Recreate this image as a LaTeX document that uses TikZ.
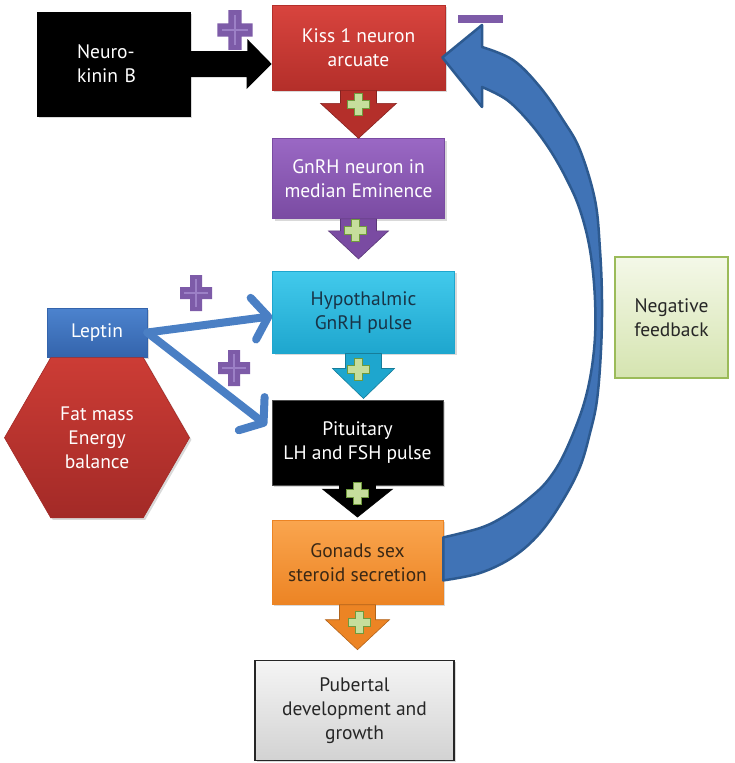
\documentclass[tikz,border=0pt]{standalone}
\usepackage{fontspec}
\setmainfont{PT Sans}
\usepackage{xcolor}
\definecolor{KissRed}{HTML}{D8443E}
\definecolor{KissRedDark}{HTML}{B42F2A}
\definecolor{GnrhPurple}{HTML}{9A68C4}
\definecolor{GnrhPurpleDark}{HTML}{7A4BA2}
\definecolor{HypoCyan}{HTML}{42CAEC}
\definecolor{HypoCyanDark}{HTML}{1EA6CE}
\definecolor{GonadOrange}{HTML}{FAA54E}
\definecolor{GonadOrangeDark}{HTML}{EC8424}
\definecolor{LeptinBlue}{HTML}{4C83CE}
\definecolor{LeptinBlueDark}{HTML}{3464AC}
\definecolor{FatRed}{HTML}{CC3C35}
\definecolor{FatRedDark}{HTML}{A32A27}
\definecolor{NegGreen}{HTML}{F4F8E8}
\definecolor{NegGreenDark}{HTML}{D5E4B0}
\definecolor{NegEdge}{HTML}{9BBB59}
\definecolor{ArrowBlue}{HTML}{4A7FC4}
\definecolor{LoopBlue}{HTML}{4073B6}
\definecolor{LoopEdge}{HTML}{2D5A90}
\definecolor{CrossPurple}{HTML}{7D5BA8}
\definecolor{CrossLight}{HTML}{9C80C6}
\definecolor{PlusGreen}{HTML}{C6DE9C}
\definecolor{PlusEdge}{HTML}{6F9A3C}
\definecolor{HypoText}{HTML}{183447}
\definecolor{GonadText}{HTML}{3A2815}
\usetikzlibrary{arrows.meta,positioning,shapes.geometric,calc,shadows}

\tikzset{
  pics/pcross/.style={code={
    \fill[CrossPurple] (-16,-6) rectangle (16,6) (-6,-18) rectangle (6,18);
    \draw[CrossLight, line width=1.5pt] (-12,0) -- (12,0) (0,-14) -- (0,14);}},
  pics/gplus/.style={code={
    \filldraw[fill=PlusGreen, draw=PlusEdge, line width=1pt]
      (-4,-11) -- (4,-11) -- (4,-4) -- (11,-4) -- (11,4) -- (4,4) -- (4,11)
      -- (-4,11) -- (-4,4) -- (-11,4) -- (-11,-4) -- (-4,-4) -- cycle;}},
  pics/downblock/.style n args={4}{code={
    \filldraw[fill=#1, draw=#1!75!black, line width=0.6pt]
      (-18,0) -- (-18,#2) -- (-#4,#2) -- (0,{#2+#3}) -- (#4,#2) -- (18,#2) -- (18,0) -- cycle;}}
}

\begin{document}
\begin{tikzpicture}[x=1pt, y=-1pt, node distance=48pt,
  every node/.style={font=\fontsize{19.5}{24}\selectfont, align=center},
  box/.style={draw, line width=0.6pt, minimum width=172pt, minimum height=84pt, inner sep=2pt,
    drop shadow={opacity=0.3, shadow xshift=2pt, shadow yshift=-2pt}},
  leparrow/.style={ArrowBlue, line width=8pt, line cap=round, -{Straight Barb[length=15pt, width=42pt, round]}}]

  \useasboundingbox (0,0) rectangle (735,763);

  % main chain
  \node[box, top color=KissRed, bottom color=KissRedDark, draw=KissRedDark, text=white, minimum width=173pt, minimum height=85pt] (kiss) at (358.5,47.5) {Kiss 1 neuron\\arcuate};
  \node[box, top color=GnrhPurple, bottom color=GnrhPurpleDark, draw=GnrhPurpleDark, text=white, minimum height=80pt, below=48pt of kiss] (gnrh) {GnRH neuron in\\median Eminence};
  \node[box, top color=HypoCyan, bottom color=HypoCyanDark, draw=HypoCyanDark, text=HypoText, minimum width=182pt, minimum height=82pt, below=52pt of gnrh, xshift=5pt] (hypo) {Hypothalmic\\GnRH pulse};
  \node[box, fill=black, draw=black!70, text=white, minimum width=171pt, minimum height=85pt, below=46pt of hypo, xshift=-6pt] (pit) {Pituitary\\LH and FSH pulse};
  \node[box, top color=GonadOrange, bottom color=GonadOrangeDark, draw=GonadOrangeDark, text=GonadText, minimum width=171pt, below=35pt of pit] (gonad) {Gonads sex\\steroid secretion};
  \node[box, top color=gray!8, bottom color=gray!35, draw=black!85, line width=1.2pt, text=black!85, minimum width=199pt, minimum height=100pt, below=55pt of gonad, xshift=-3pt] (pub) {Pubertal\\development and\\growth};

  % side inputs
  \node[box, fill=black, draw=black, text=white, minimum width=153pt, minimum height=104pt, text width=73pt, align=left] (nk) at (113.5,64) {Neuro-\\kinin B};
  \node[box, top color=LeptinBlue, bottom color=LeptinBlueDark, draw=LeptinBlueDark, text=white, minimum width=100pt, minimum height=49pt] (leptin) at (97,332.5) {Leptin};
  \node[box, regular polygon, regular polygon sides=6, minimum size=185pt, top color=FatRed, bottom color=FatRedDark, draw=FatRedDark, text=white, below=0pt of leptin] (fat) {Fat mass\\Energy\\balance};
  \node[draw=NegEdge, line width=1.2pt, top color=NegGreen, bottom color=NegGreenDark, minimum width=113pt, minimum height=121pt, text=black!85] (neg) at (671.5,317.5) {Negative\\feedback};

  % signs
  \pic[scale=1.1] at (235,30) {pcross};
  \pic at (196,293) {pcross};
  \pic at (234,368) {pcross};
  \node[fill=CrossPurple, minimum width=45pt, minimum height=8pt, inner sep=0pt] (minus) at (480.5,19) {};

  % block arrows down the chain
  \pic at (kiss.south) {downblock={KissRedDark}{13}{35}{38}};
  \pic at (gnrh.south) {downblock={GnrhPurpleDark}{12}{28}{30}};
  \pic at (hypo.south) {downblock={HypoCyanDark}{15}{30}{31}};
  \pic at (pit.south) {downblock={black}{4}{28}{35}};
  \pic at (gonad.south) {downblock={GonadOrangeDark}{15}{30}{32}};

  \pic at ($(kiss.south)+(0,14)$) {gplus};
  \pic at ($(gnrh.south)+(-3,12)$) {gplus};
  \pic at ($(hypo.south)+(-5,16)$) {gplus};
  \pic at ($(pit.south)+(0,8)$) {gplus};
  \pic at ($(gonad.south)+(2,18)$) {gplus};

  % neurokinin B into kiss
  \fill[black] ($(nk.east)+(0,-13)$) -- ++(57,0) -- ++(0,-12) -- (kiss.west |- nk.east) -- ++(-25,25) -- ++(0,-12) -- ($(nk.east)+(0,13)$) -- cycle;

  % leptin arrows
  \draw[leparrow] (leptin.east) -- ($(hypo.west)+(0,4)$);
  \draw[leparrow] (leptin.east) -- ($(pit.west)+(-5,-17)$);

  % feedback loop
  \filldraw[fill=LoopBlue, draw=LoopEdge, line width=2.5pt, line join=round]
    plot[smooth, tension=0.6] coordinates {($(gonad.east)+(0,18)$) (480,573) (513,557) (540,533) (563,500) (580,467) (590,433) (597,400) (601,350) (602,300) (600,250) (595,200) (580,150) (563,120) (540,87) (513,60) (482,47)}
    -- (482,25) -- ($(kiss.east)+(-3,10)$) -- (482,107)
    -- plot[smooth, tension=0.6] coordinates {(482,87) (507,100) (530,123) (550,150) (567,180) (580,210) (590,250) (595,300) (594,350) (585,400) (566,450) (548,480) (527,500) (503,517) (480,528) ($(gonad.east)+(0,-25)$)}
    -- cycle;
\end{tikzpicture}
\end{document}
